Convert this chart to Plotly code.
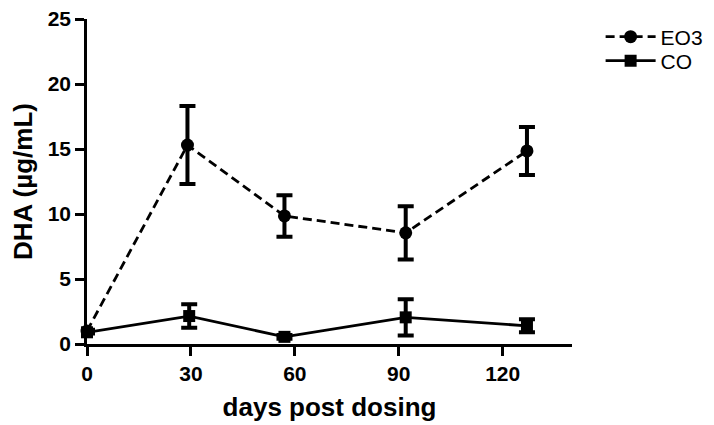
import plotly.graph_objects as go

days_eo3 = [0, 29, 57, 92, 127]
eo3_mean = [1.0, 15.3, 9.85, 8.55, 14.85]
eo3_err = [0.1, 3.0, 1.6, 2.05, 1.85]

days_co = [0, 29.5, 57, 92, 127]
co_mean = [0.9, 2.15, 0.55, 2.05, 1.4]
co_err = [0.1, 0.9, 0.15, 1.4, 0.5]

x_ticks = [0, 30, 60, 90, 120]
y_ticks = [0, 5, 10, 15, 20, 25]

fig = go.Figure()
fig.add_trace(go.Scatter(
    x=days_eo3, y=eo3_mean, name="EO3", mode="lines+markers", legend="legend",
    line=dict(color="black", width=2.8, dash="9px,5px"),
    marker=dict(symbol="circle", size=13, color="black"),
    error_y=dict(type="data", array=eo3_err, visible=True, color="black", thickness=4, width=8),
))
fig.add_trace(go.Scatter(
    x=days_co, y=co_mean, name="CO", mode="lines+markers", legend="legend2",
    line=dict(color="black", width=2.8),
    marker=dict(symbol="square", size=12, color="black"),
    error_y=dict(type="data", array=co_err, visible=True, color="black", thickness=4, width=8),
))

tick_font = dict(family="Liberation Sans", size=21, color="black", weight="bold")
legend_font = dict(family="Liberation Sans", size=21, color="black")
fig.update_layout(
    width=706, height=417,
    margin=dict(l=79, r=142, t=11, b=81, autoexpand=False),
    paper_bgcolor="white", plot_bgcolor="white",
    showlegend=True,
    legend=dict(x=1.059, y=0.9446, xanchor="left", yanchor="middle",
                font=legend_font, bgcolor="rgba(0,0,0,0)", itemwidth=50),
    legend2=dict(x=1.059, y=0.8708, xanchor="left", yanchor="middle",
                 font=legend_font, bgcolor="rgba(0,0,0,0)", itemwidth=50),
    xaxis=dict(range=[0, 140], tickvals=x_ticks, showgrid=False, zeroline=False,
               showline=True, linecolor="black", linewidth=2.5, automargin=False,
               ticks="outside", ticklen=9, tickwidth=2.5, tickcolor="black",
               tickfont=tick_font, ticklabeloverflow="allow",
               title=dict(text="days post dosing", font=dict(family="Liberation Sans", size=26, color="black", weight="bold"), standoff=14)),
    yaxis=dict(range=[0, 25], tickvals=y_ticks, showgrid=False, zeroline=False,
               showline=True, linecolor="black", linewidth=2.5, automargin=False,
               ticks="outside", ticklen=9, tickwidth=2.5, tickcolor="black",
               tickfont=tick_font, ticklabeloverflow="allow",
               title=dict(text="DHA (µg/mL)", font=dict(family="Liberation Sans", size=26, color="black", weight="bold"), standoff=9)),
)
fig.update_traces(cliponaxis=False)
fig.write_html("out.html")
